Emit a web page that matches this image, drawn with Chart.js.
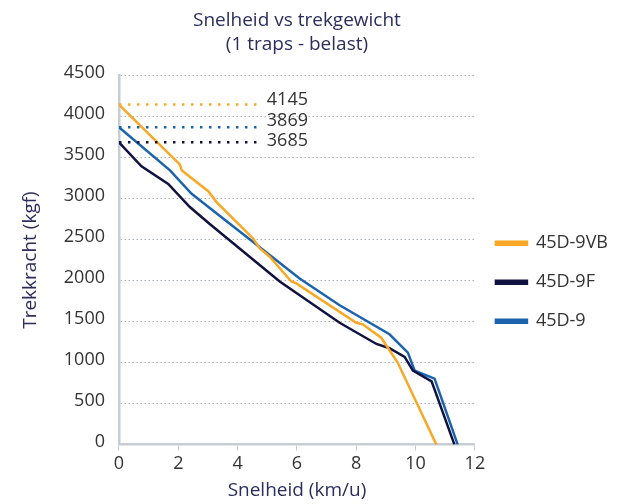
<!DOCTYPE html>
<html>
<head>
<meta charset="utf-8">
<script src="https://cdn.jsdelivr.net/npm/chart.js@4.4.1/dist/chart.umd.min.js"></script>
<style>
    html, body { margin: 0; padding: 0; background: #fff; }
</style>
</head>
<body>
<canvas id="lineChart" width="620" height="504"></canvas>
<script>
//  Data: snelheid (km/u) and trekkracht (kgf)
var snelheid9VB = [0, 2.05, 2.12, 3.01, 3.29, 4.52, 4.75, 5.08, 5.81, 5.98, 8.0, 8.22, 8.84, 9.40, 10.70];
var kracht9VB   = [4145, 3416, 3343, 3089, 2957, 2513, 2392, 2291, 1989, 1965, 1485, 1466, 1303, 998, 0];

var snelheid9F = [0, 0.76, 1.66, 2.39, 3.06, 5.42, 7.44, 8.68, 9.12, 9.63, 9.91, 10.54, 11.31];
var kracht9F   = [3685, 3392, 3178, 2896, 2690, 1989, 1485, 1227, 1175, 1070, 901, 771, 0];

var snelheid9 = [0, 1.72, 2.45, 3.06, 6.09, 7.44, 9.12, 9.74, 9.97, 10.64, 11.42];
var kracht9   = [3869, 3343, 3057, 2884, 2025, 1699, 1345, 1122, 901, 804, 0];

//  Start values marked with a dotted line
var refWaarden = [4145, 3869, 3685];
var refEinde = 4.85;

var xTicks = [0, 2, 4, 6, 8, 10, 12];
var yTicks = [0, 500, 1000, 1500, 2000, 2500, 3000, 3500, 4000, 4500];

var kleurOranje = "#f8a825";
var kleurNavy = "#10123f";
var kleurBlauw = "#1c63ad";
var kleurTitel = "#2b2e5c";
var kleurTekst = "#333333";

function punten(xs, ys) {
    return xs.map(function(x, i) { return {x: x, y: ys[i]}; });
}

function refLijn(v, kleur) {
    return {
        label: "ref" + v,
        data: [{x: 0, y: v}, {x: refEinde, y: v}],
        borderColor: kleur,
        borderWidth: 2.5,
        borderDash: [2.5, 6.5],
        pointRadius: 0,
        fill: false
    };
}

//  Labels behind the dotted lines (nudged a bit so they don't overlap)
var refLabels = {
    id: "refLabels",
    afterDatasetsDraw: function(chart) {
        var ctx = chart.ctx;
        var xs = chart.scales.x, ys = chart.scales.y;
        var nudge = [-5, -6, -1];
        ctx.save();
        ctx.font = '18px "Open Sans"';
        ctx.fillStyle = kleurTekst;
        ctx.textBaseline = "middle";
        refWaarden.forEach(function(v, i) {
            ctx.fillText(String(v), xs.getPixelForValue(refEinde) + 4, ys.getPixelForValue(v) + nudge[i]);
        });
        ctx.restore();
    }
};

Chart.defaults.font.family = '"Open Sans", sans-serif';

new Chart(document.getElementById("lineChart"), {
    type: "line",
    data: {
        datasets: [
            refLijn(refWaarden[0], kleurOranje),
            refLijn(refWaarden[1], kleurBlauw),
            refLijn(refWaarden[2], kleurNavy),
            {
                label: "45D-9VB",
                data: punten(snelheid9VB, kracht9VB),
                borderColor: kleurOranje,
                backgroundColor: kleurOranje,
                borderWidth: 2.5,
                pointRadius: 0,
                fill: false
            },
            {
                label: "45D-9F",
                data: punten(snelheid9F, kracht9F),
                borderColor: kleurNavy,
                backgroundColor: kleurNavy,
                borderWidth: 2.5,
                pointRadius: 0,
                fill: false
            },
            {
                label: "45D-9",
                data: punten(snelheid9, kracht9),
                borderColor: kleurBlauw,
                backgroundColor: kleurBlauw,
                borderWidth: 2.5,
                pointRadius: 0,
                fill: false
            }
        ]
    },
    options: {
        responsive: false,
        animation: false,
        layout: {padding: {top: 9, left: 19, right: 2, bottom: 2}},
        plugins: {
            title: {
                display: true,
                fullSize: false,
                text: ["Snelheid vs trekgewicht", "(1 traps - belast)"],
                color: kleurTitel,
                font: {size: 19, weight: "normal", lineHeight: 1.25},
                padding: {top: 0, bottom: 19}
            },
            legend: {
                display: true,
                position: "right",
                fullSize: false,
                title: {display: true, text: "", font: {size: 18}, padding: {top: 0, bottom: 23}},
                labels: {
                    filter: function(item) { return item.text.indexOf("ref") !== 0; },
                    boxWidth: 31,
                    boxHeight: 3,
                    padding: 21,
                    color: kleurTekst,
                    font: {size: 18}
                }
            },
            tooltip: {enabled: false}
        },
        scales: {
            x: {
                type: "linear",
                min: 0,
                max: 12,
                afterBuildTicks: function(axis) {
                    axis.ticks = xTicks.map(function(v) { return {value: v}; });
                },
                grid: {drawOnChartArea: false, drawTicks: true, tickLength: 6, color: "#c6cdd4"},
                border: {color: "#c6cdd4", width: 2.5},
                ticks: {color: kleurTekst, font: {size: 18}, padding: 2, maxRotation: 0},
                title: {
                    display: true,
                    text: "Snelheid (km/u)",
                    color: kleurTitel,
                    font: {size: 19},
                    padding: {top: 3, bottom: 0}
                }
            },
            y: {
                type: "linear",
                min: 0,
                max: 4500,
                afterBuildTicks: function(axis) {
                    axis.ticks = yTicks.map(function(v) { return {value: v}; });
                },
                grid: {drawTicks: false, color: "#aab2bb", lineWidth: 1},
                border: {color: "#c6cdd4", width: 2.5, dash: [1.5, 2.5]},
                ticks: {
                    color: kleurTekst,
                    font: {size: 18},
                    padding: 14,
                    labelOffset: -3,
                    callback: function(v) { return String(v); }
                },
                title: {
                    display: true,
                    text: "Trekkracht (kgf)",
                    color: kleurTitel,
                    font: {size: 19},
                    padding: {top: 0, bottom: 8}
                }
            }
        }
    },
    plugins: [refLabels]
});
</script>
</body>
</html>
